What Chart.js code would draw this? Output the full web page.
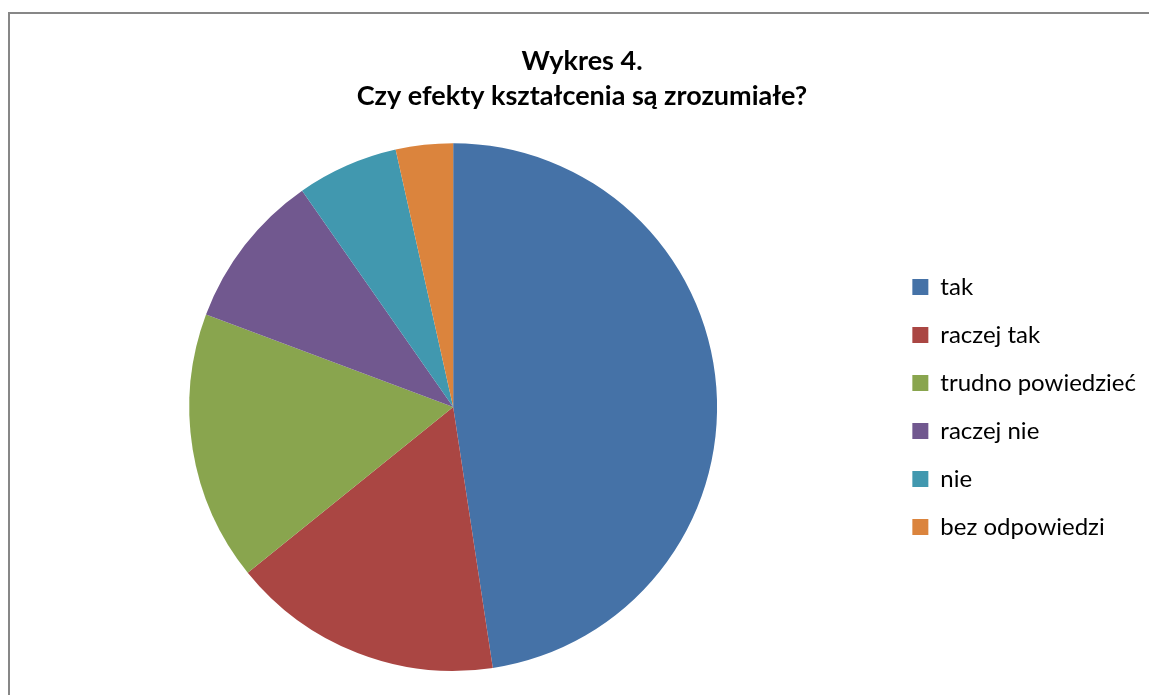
<!DOCTYPE html>
<html>
<head>
<meta charset="utf-8">
<script src="https://cdn.jsdelivr.net/npm/chart.js@4.4.0/dist/chart.umd.min.js"></script>
<style>
  html, body { margin: 0; padding: 0; background: #fff; }
  #wrap { position: relative; width: 1149px; height: 695px; overflow: hidden; }
  #frame { position: absolute; left: 8px; top: 12px; width: 1200px; height: 800px;
           border-left: 2px solid #878787; border-top: 2px solid #878787; }
  canvas { position: absolute; left: 0; top: 0; }
</style>
</head>
<body>
<div id="wrap">
  <div id="frame"></div>
  <canvas id="chart"></canvas>
</div>
<script>
const categories = ['tak', 'raczej tak', 'trudno powiedzieć', 'raczej nie', 'nie', 'bez odpowiedzi'];
const shares = [47.6, 16.6, 16.5, 9.6, 6.2, 3.5];
const sliceColors = ['#4572A7', '#AA4643', '#89A54E', '#71588F', '#4198AF', '#DB843D'];
const titleLines = ['Wykres 4.', 'Czy efekty kształcenia są zrozumiałe?'];

const ctx = document.getElementById('chart');
ctx.width = 1149;
ctx.height = 695;

new Chart(ctx, {
  type: 'pie',
  data: {
    labels: categories,
    datasets: [{
      data: shares,
      backgroundColor: sliceColors,
      borderWidth: 0,
    }],
  },
  options: {
    responsive: false,
    animation: false,
    devicePixelRatio: 1,
    layout: { padding: { left: 18, right: 3, top: 0, bottom: 24 } },
    plugins: {
      tooltip: { enabled: false },
      title: {
        display: true,
        text: titleLines,
        color: '#000',
        font: { family: 'Lato', size: 27, weight: 'bold', lineHeight: 1.3 },
        padding: { top: 44, bottom: 29 },
      },
      legend: {
        display: true,
        position: 'right',
        fullSize: false,
        labels: {
          color: '#000',
          font: { family: 'Lato', size: 24 },
          boxWidth: 16,
          boxHeight: 16,
          padding: 24,
        },
      },
    },
  },
});
</script>
</body>
</html>
